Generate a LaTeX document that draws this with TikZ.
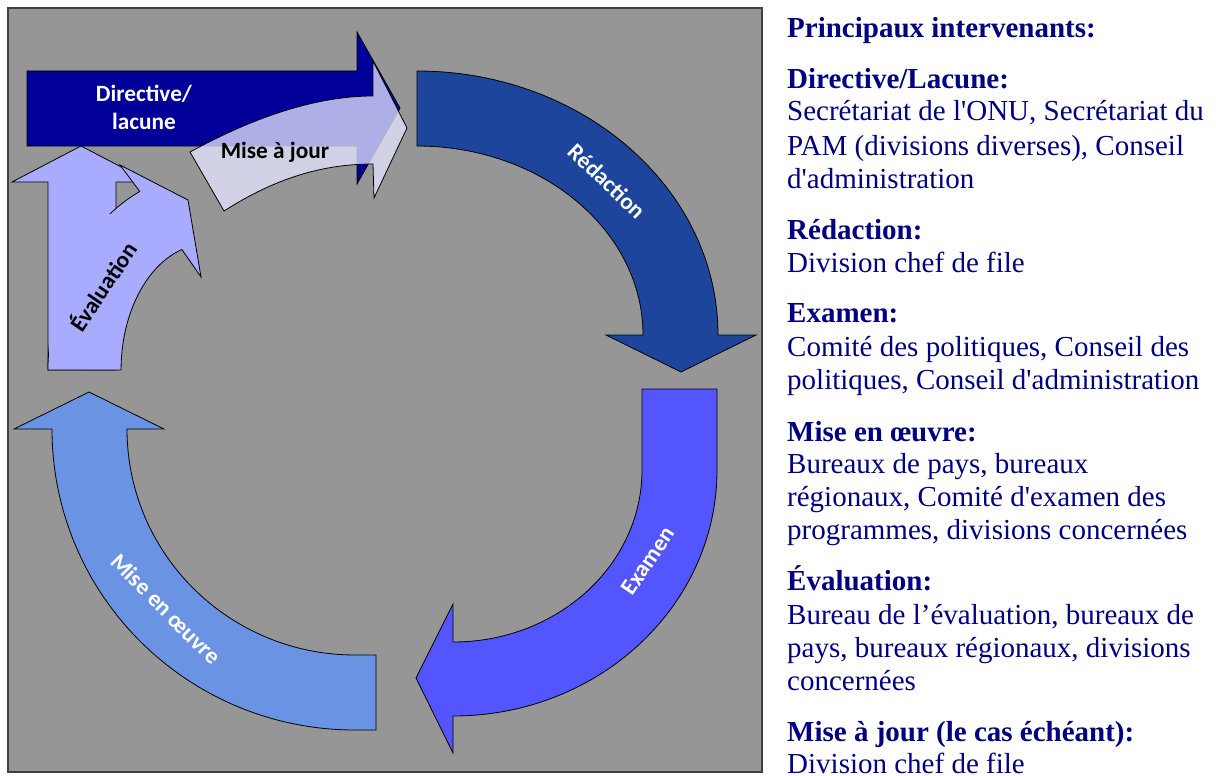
\documentclass[tikz,border=0pt]{standalone}
\usepackage{fontspec}
\setmainfont{Liberation Serif}
\newfontfamily\calfont{Carlito}
\definecolor{panelgray}{RGB}{150,150,150}
\definecolor{dirnavy}{RGB}{0,0,153}
\definecolor{redblue}{RGB}{29,69,155}
\definecolor{exblue}{RGB}{83,85,255}
\definecolor{meoblue}{RGB}{106,147,228}
\definecolor{evalblue}{RGB}{169,171,255}
\definecolor{majlav}{RGB}{228,228,255}
\definecolor{txtnavy}{RGB}{0,0,128}
\newcommand{\sq}{\textquotesingle}
\tikzset{
  shapeline/.style={draw=black, line width=0.8},
  lbl/.style={font=\calfont\bfseries\fontsize{23.3}{27.6}\selectfont, inner sep=0, align=center},
  hd/.style={anchor=base west, inner sep=0, text=txtnavy, font=\bfseries\fontsize{29}{33}\selectfont},
  bd/.style={anchor=base west, inner sep=0, text=txtnavy, font=\fontsize{29}{33}\selectfont}
}
\begin{document}
\begin{tikzpicture}[x=1pt,y=-1pt]
\useasboundingbox (0,0) rectangle (1216,776);
% panel
\fill[white] (0,0) rectangle (1216,776);
\draw[fill=panelgray, draw=black!75, line width=1.2] (8,8) rectangle (762,772);

% Redaction
\path[shapeline, fill=redblue] (417,71) arc[start angle=-90, end angle=0, x radius=301, y radius=264]
  -- (756,335) -- (681,372) -- (606,335) -- (643,335)
  arc[start angle=0, end angle=-90, x radius=226, y radius=189] -- cycle;
% Examen
\path[shapeline, fill=exblue] (642,389) -- (717,389) -- (717,470)
  arc[start angle=0, end angle=90, x radius=264, y radius=246]
  -- (453,753) -- (416,678) -- (453,604) -- (453,642)
  arc[start angle=90, end angle=0, x radius=189, y radius=172] -- cycle;
% Mise en oeuvre
\path[shapeline, fill=meoblue] (376,655) -- (376,730) -- (355,730)
  arc[start angle=90, end angle=180, x radius=303, y radius=301]
  -- (14,429) -- (89,392) -- (164,429) -- (127,429)
  arc[start angle=180, end angle=90, x radius=228, y radius=226] -- cycle;
% Evaluation (straight part + curved part)
\path[shapeline, fill=evalblue] (48,370) -- (48,182) -- (12,182) -- (81,146) -- (150,182) -- (116,182) -- (116,370) -- cycle;
\path[shapeline, fill=evalblue] (48,370) arc[start angle=180, end angle=245, x radius=159, y radius=197]
  -- (120,165) -- (188,200) -- (201,277) -- (181.9,249.5)
  arc[start angle=253, end angle=180, x radius=86, y radius=126] -- cycle;
\fill[evalblue] (48.6,214) rectangle (117,369.4);
% Directive
\path[shapeline, fill=dirnavy] (27,71) -- (357,71) -- (357,32) -- (400,108) -- (357,184) -- (357,146) -- (27,146) -- cycle;
% Mise a jour
\path[shapeline, fill=majlav, fill opacity=0.77] (190,152) .. controls (245,122) and (310,96) .. (373,96)
  -- (373,61) -- (407,128) -- (374,198) -- (373,164)
  .. controls (315,164) and (268,183) .. (224,211) -- cycle;

% labels
\node[lbl, text=white, anchor=base] (tdir1) at (144,101.7) {Directive/};
\node[lbl, text=white, anchor=base] (tdir2) at (144,129.3) {lacune};
\node[lbl, text=black, anchor=base] (tmaj) at (275,158.3) {Mise à jour};
\node[lbl, text=white, rotate=-44] (tred) at (607,181) {Rédaction};
\node[lbl, text=white, rotate=56] (texa) at (648,561) {Examen};
\node[lbl, text=white, rotate=-45] (tmeo) at (166,609) {Mise en œuvre};
\node[lbl, text=black, rotate=56] (teva) at (102.5,286) {Évaluation};

% right column
\node[hd] (h0) at (787,37.7) {Principaux intervenants:};
\node[hd] (h1) at (787,88.3) {Directive/Lacune:};
\node[bd] (b1a) at (787,121) {Secrétariat de l\sq ONU, Secrétariat du};
\node[bd] (b1b) at (787,155.5) {PAM (divisions diverses), Conseil};
\node[bd] (b1c) at (787,188.5) {d\sq administration};
\node[hd] (h2) at (787,239) {Rédaction:};
\node[bd] (b2a) at (787,272.7) {Division chef de file};
\node[hd] (h3) at (787,322.7) {Examen:};
\node[bd] (b3a) at (787,356) {Comité des politiques, Conseil des};
\node[bd] (b3b) at (787,389) {politiques, Conseil d\sq administration};
\node[hd] (h4) at (787,441) {Mise en œuvre:};
\node[bd] (b4a) at (787,473.3) {Bureaux de pays, bureaux};
\node[bd] (b4b) at (787,506.7) {régionaux, Comité d\sq examen des};
\node[bd] (b4c) at (787,539.3) {programmes, divisions concernées};
\node[hd] (h5) at (787,590) {Évaluation:};
\node[bd] (b5a) at (787,624.3) {Bureau de l’évaluation, bureaux de};
\node[bd] (b5b) at (787,657.3) {pays, bureaux régionaux, divisions};
\node[bd] (b5c) at (787,690) {concernées};
\node[hd] (h6) at (787,741) {Mise à jour (le cas échéant):};
\node[bd] (b6a) at (787,773.3) {Division chef de file};
\end{tikzpicture}
\end{document}
